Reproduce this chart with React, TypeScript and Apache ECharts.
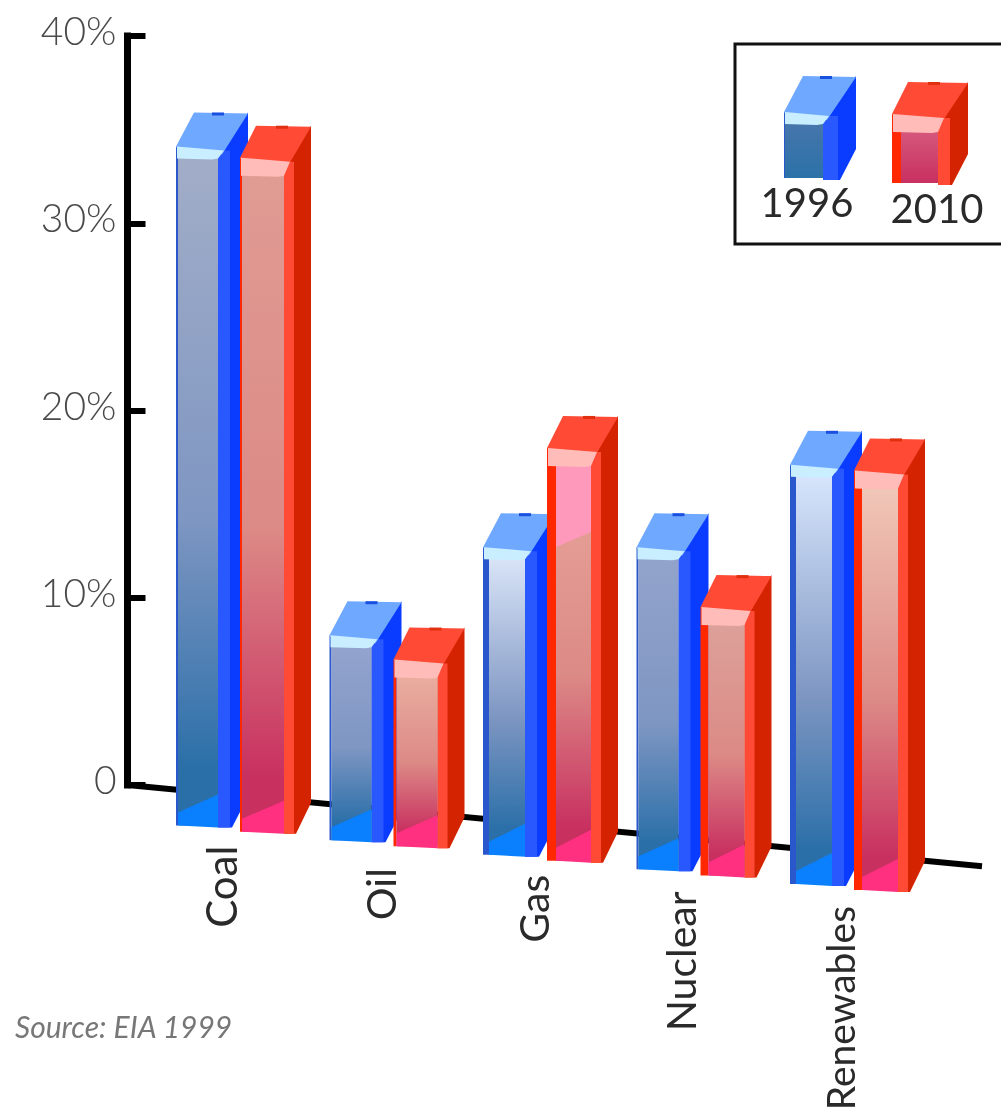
import React, { useEffect, useRef } from "react";
import * as echarts from "echarts";

const CATEGORIES = ["Coal", "Oil", "Gas", "Nuclear", "Renewables"];
const VALUES_1996 = [34.1, 8.0, 12.7, 12.7, 17.1];
const VALUES_2010 = [33.5, 6.7, 18.0, 9.5, 16.8];
const Y_TICKS = { min: 0, max: 40, interval: 10 };

// Styling tables, one entry per category
const FACE_TOP_1996 = ["#a3aec8", "#95a5cf", "#dfe9fb", "#94a4cc", "#dbe9ff"];
const FACE_TOP_2010 = ["#e09c94", "#ecb4a4", "#e8a89c", "#dca49c", "#f2ccbc"];
const STRIPE_1996 = [2, 2, 6, 2, 6];
const STRIPE_2010 = [2, 3, 9, 8, 8];
const LABEL_DX = [-21, -15, -16, -22, -16];
const LABEL_DY = [20, 28, 20, 22, 22];
const LABEL_SIZE = [42, 41, 41, 41, 39];

const FONT = "Lato, 'Noto Sans', sans-serif";
const GRID_LEFT = 165.25;
const AXIS_X = 127.5;
const SLOPE = 0.095;
const BASE_DROP = 36;

type Palette = {
  top: string; dot: string; highlight: string; stripe: string;
  sideLight: string; sideDark: string; corner: string;
};
const BLUE: Palette = {
  top: "#6fa8ff", dot: "#1a50e0", highlight: "#c8eeff", stripe: "#2a58cc",
  sideLight: "#2a58ff", sideDark: "#0a3cff", corner: "#0a80ff",
};
const RED: Palette = {
  top: "#ff4b35", dot: "#e03010", highlight: "#ffbcb8", stripe: "#ff2800",
  sideLight: "#ff4a35", sideDark: "#d42300", corner: "#ff3080",
};

type Box = {
  x: number; T: number; B: number; stripe: number; w: number; light: number;
  dx: number; backX: number; dy: number; hl: number;
  face: any; pal: Palette; corner: boolean; gloss?: boolean; z?: number;
};

function prism(b: Box) {
  const { x, T, B, stripe, w, light, dx, backX, dy, hl, face, pal } = b;
  const poly = (points: number[][], fill: string | any) => ({
    type: "polygon", shape: { points }, style: { fill, stroke: null }, silent: true, z: b.z,
  });
  const sx = x + w + light;
  const els: any[] = [
    poly([[x + w, T + 6], [x + dx, T - dy], [x + dx, B - 29], [sx + 2, B + 2], [x + w, B + 2]], pal.sideDark),
    poly([[x + w, T + 4], [sx, T + 4], [sx, B + 2], [x + w, B + 2]], pal.sideLight),
    poly([[x, T], [x + stripe, T], [x + stripe, B], [x, B]], pal.stripe),
    poly([[x + stripe, T], [x + w, T], [x + w, B], [x + stripe, B]], face),
  ];
  if (b.gloss) {
    els.push(poly([[x + stripe, T], [x + w, T], [x + w, T + 84], [x + stripe, T + 99]], "#ff99bb"));
  }
  if (b.corner) {
    els.push(poly([[x + stripe, B - 13], [x + w, B - 31], [x + w, B + 2], [x + stripe, B]], pal.corner));
  }
  els.push(
    poly([[x, T], [x + backX, T - dy], [x + dx, T - dy + 1], [x + w + 4, T + 8], [x + 2, T + 3]], pal.top),
    poly([[x + 1, T], [x + w + 6, T + 4], [x + w, T + hl], [x + w - 6, T + hl + 1], [x + 1, T + hl]], pal.highlight),
    poly([[x + 36, T - dy], [x + 48, T - dy], [x + 48, T - dy + 3], [x + 36, T - dy + 3]], pal.dot)
  );
  return els;
}

const vGrad = (stops: [number, string][]) =>
  new echarts.graphic.LinearGradient(0, 0, 0, 1, stops.map(([offset, color]) => ({ offset, color })));

function baseY(api: any, x: number) {
  const zero = api.coord([0, 0])[1];
  return zero + (x - AXIS_X) * SLOPE + BASE_DROP;
}

const barSeries = (
  name: string, values: number[], offset: number, w: number, light: number, dx: number,
  backX: number, dy: number, hl: number, pal: Palette, tops: string[], stripes: number[],
  mid: string, bottom: string
) => ({
  type: "custom",
  name,
  z: 3,
  data: values.map((v, i) => [i, v]),
  encode: { x: 0, y: 1 },
  renderItem: (_p: any, api: any) => {
    const i = api.value(0);
    const [cx, T] = api.coord([i, api.value(1)]);
    const x = cx + offset;
    const B = baseY(api, x);
    const face = vGrad([[0, tops[i]], [0.55, mid], [0.92, bottom], [1, bottom]]);
    return {
      type: "group",
      children: prism({
        x, T, B, stripe: stripes[i], w, light, dx, backX, dy, hl, face, pal,
        corner: true, gloss: name === "2010" && i === 2,
      }),
    };
  },
});

export default function App() {
  const ref = useRef<HTMLDivElement>(null);
  useEffect(() => {
    if (!ref.current) return;
    const chart = echarts.init(ref.current, undefined, { renderer: "svg" });
    const legend1 = prism({
      x: 784, T: 112, B: 178, stripe: 1, w: 39, light: 15, dx: 72, backX: 19, dy: 36, hl: 12, z: 6,
      face: vGrad([[0, "#4c76ac"], [1, "#2a72a8"]]), pal: BLUE, corner: false,
    });
    const legend2 = prism({
      x: 892, T: 114, B: 183, stripe: 9, w: 46, light: 12, dx: 76, backX: 16, dy: 32, hl: 18, z: 6,
      face: vGrad([[0, "#da6484"], [1, "#c83060"]]), pal: RED, corner: false,
    });
    chart.setOption({
      animation: false,
      backgroundColor: "#ffffff",
      grid: { left: GRID_LEFT, top: 36, width: 767.5, height: 749, containLabel: false },
      xAxis: {
        type: "category", data: CATEGORIES,
        axisLine: { show: false }, axisTick: { show: false }, axisLabel: { show: false },
      },
      yAxis: {
        type: "value", min: Y_TICKS.min, max: Y_TICKS.max, interval: Y_TICKS.interval,
        offset: GRID_LEFT - AXIS_X,
        splitLine: { show: false },
        axisLine: { show: true, onZero: false, lineStyle: { color: "#000", width: 7, cap: "square" } },
        axisTick: { show: true, inside: true, length: 18, lineStyle: { color: "#000", width: 6 } },
        axisLabel: {
          margin: 11, color: "#4a4a4a", fontFamily: FONT, fontWeight: 300, fontSize: 39,
          verticalAlign: "bottom", lineHeight: 12,
          formatter: (v: number) => (v === 0 ? "0" : `${v}%`),
        },
      },
      series: [
        {
          type: "custom", name: "baseline", z: 1, data: [[0, 0]], encode: { x: 0, y: 1 },
          renderItem: (_p: any, api: any) => {
            const zero = api.coord([0, 0])[1];
            const end = 982;
            return {
              type: "polyline",
              shape: { points: [[AXIS_X, zero], [end, zero + (end - AXIS_X) * SLOPE]] },
              style: { stroke: "#000", lineWidth: 6, fill: null },
            };
          },
        },
        barSeries("1996", VALUES_1996, -66, 42, 12, 72, 18, 34, 12, BLUE, FACE_TOP_1996, STRIPE_1996, "#7e96c2", "#2a6fa8"),
        barSeries("2010", VALUES_2010, -2, 44, 10, 71, 16, 32, 18, RED, FACE_TOP_2010, STRIPE_2010, "#dc8a86", "#c83060"),
        {
          type: "custom", name: "labels", z: 4,
          data: CATEGORIES.map((_c, i) => [i, 0]), encode: { x: 0, y: 1 },
          renderItem: (_p: any, api: any) => {
            const i = api.value(0);
            const cx = api.coord([i, 0])[0];
            return {
              type: "text",
              x: cx + LABEL_DX[i],
              y: baseY(api, cx - 66) + LABEL_DY[i],
              rotation: Math.PI / 2,
              style: {
                text: CATEGORIES[i], fill: "#2a2a2a", fontFamily: FONT, fontWeight: 400, fontSize: LABEL_SIZE[i],
                align: "right", verticalAlign: "middle",
              },
            };
          },
        },
      ],
      graphic: [
        { type: "rect", z: 5, shape: { x: 735, y: 44, width: 280, height: 200 }, style: { fill: "transparent", stroke: "#111", lineWidth: 3 } },
        { type: "group", children: legend1 },
        { type: "group", children: legend2 },
        { type: "text", x: 807, y: 202, z: 7, style: { text: "1996", fill: "#2a2a2a", fontFamily: FONT, fontWeight: 400, fontSize: 40, align: "center", verticalAlign: "middle" } },
        { type: "text", x: 937, y: 208, z: 7, style: { text: "2010", fill: "#2a2a2a", fontFamily: FONT, fontWeight: 400, fontSize: 40, align: "center", verticalAlign: "middle" } },
        { type: "text", x: 15, y: 1026, z: 7, style: { text: "Source: EIA 1999", fill: "#777", fontFamily: FONT, fontStyle: "italic", fontSize: 30, align: "left", verticalAlign: "middle" } },
      ],
    });
    return () => chart.dispose();
  }, []);
  return (
    <div
      ref={ref}
      style={{ position: "absolute", left: 0, top: 0, width: 1001, height: 1113, filter: "blur(0.6px)" }}
    />
  );
}
